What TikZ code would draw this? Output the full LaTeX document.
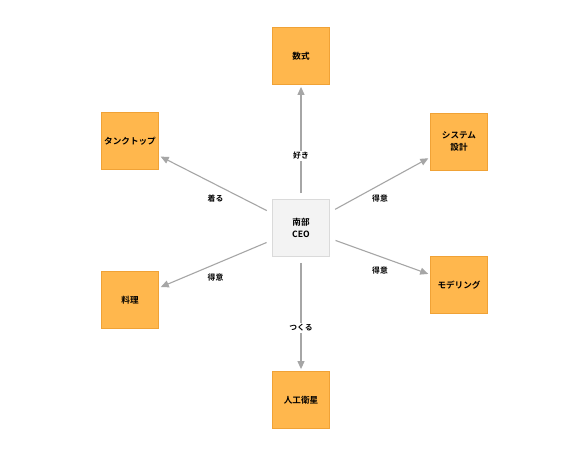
\documentclass[tikz,border=0pt]{standalone}
\usepackage{fontspec}
\setmainfont{Noto Sans CJK JP}[BoldFont={Noto Sans CJK JP Bold}]
\usetikzlibrary{arrows.meta}
\definecolor{boxfill}{HTML}{FFB74D}
\definecolor{boxline}{HTML}{F0A236}
\definecolor{ceofill}{HTML}{F3F3F3}
\definecolor{ceoline}{HTML}{DADADA}
\definecolor{edgecol}{HTML}{A6A6A6}
\tikzset{
  topic/.style={draw=boxline, fill=boxfill, line width=0.8pt, minimum size=57pt, inner sep=0pt,
    align=center, font=\fontsize{8.6}{12}\selectfont\bfseries},
  ceo/.style={draw=ceoline, fill=ceofill, line width=0.8pt, minimum size=57pt, inner sep=0pt,
    align=center, font=\fontsize{8.6}{12.5}\selectfont\bfseries},
  edge/.style={draw=edgecol, line width=1.1pt, shorten <=6pt, shorten >=2pt,
    -{Triangle[length=8pt,width=7pt]}},
  lbl/.style={fill=white, inner sep=1pt, pos=0.5, yshift=-14pt,
    font=\fontsize{7.8}{9}\selectfont\bfseries, text=black}
}
\begin{document}
\begin{tikzpicture}[x=1pt,y=-1pt]
\useasboundingbox[fill=white] (0,0) rectangle (586,458);
\node[ceo] (c) at (301,228) {南部\\CEO};
\node[topic] (s) at (301,56) {数式};
\node[topic] (t) at (130,141) {タンクトップ};
\node[topic] (k) at (459,141.5) {システム\\設計};
\node[topic] (m) at (459,285) {モデリング};
\node[topic] (r) at (130,300) {料理};
\node[topic] (e) at (301,400) {人工衛星};
\draw[edge] (c) -- node[lbl]{好き} (s);
\draw[edge] (c) -- node[lbl]{着る} (t);
\draw[edge] (c) -- node[lbl]{得意} (k);
\draw[edge] (c) -- node[lbl]{得意} (m);
\draw[edge] (c) -- node[lbl]{得意} (r);
\draw[edge] (c) -- node[lbl]{つくる} (e);
\end{tikzpicture}
\end{document}
